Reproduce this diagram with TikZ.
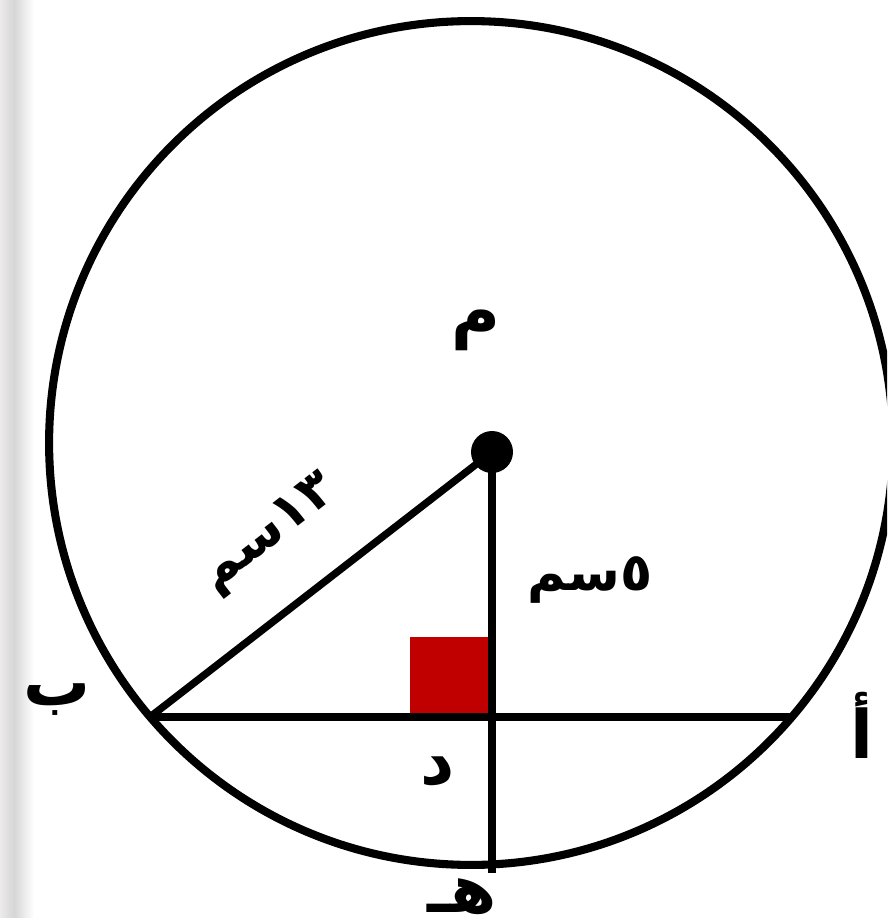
\documentclass[tikz,border=0pt]{standalone}
\usepackage{fontspec}
\newfontfamily\arabicfont[Script=Arabic]{DejaVu Sans}
\TeXXeTstate=1
\definecolor{sqred}{HTML}{C00000}
\begin{document}
\begin{tikzpicture}[x=0.02cm,y=-0.02cm,
  thick line/.style={line width=4.2pt},
  lbl/.style={font=\arabicfont\bfseries\fontsize{30}{36}\selectfont, inner sep=0pt},
  letter/.style={font=\arabicfont\bfseries\fontsize{38}{44}\selectfont, inner sep=0pt}]
\useasboundingbox (0,0) rectangle (887,918);
\clip (0,0) rectangle (887,918);
% grey strip at the left
\shade[left color=red!8!gray!15, right color=gray!32] (0,0) rectangle (14,918);
\shade[left color=gray!32, right color=white] (14,0) rectangle (34,918);
% points
\coordinate (O) at (471,443);
\coordinate (M) at (492,452);
\coordinate (B) at (150,717);
\coordinate (A) at (793,717);
\coordinate (D) at (492,717);
\coordinate (H) at (492,873);
% right angle mark
\fill[sqred] (410,637) rectangle (D);
% circle
\draw[line width=4.6pt] (O) circle[radius=8.44cm];
% segments
\draw[thick line] (B) -- (A);
\draw[thick line] (B) -- (M);
\draw[thick line] (M) -- (H);
\fill (M) circle[radius=0.42cm];
% labels
\node[letter] (lM) at (476,330) {\beginR م\endR};
\node[lbl, rotate=37.7] (l13) at (270,535) {\beginR\beginL ١٣\endL{}سم\endR};
\node[lbl] (l5) at (590,580) {\beginR\beginL ٥\endL{}سم\endR};
\node[letter] (lB) at (57,700) {\beginR ب\endR};
\node[letter] (lA) at (862,725) {\beginR أ\endR};
\node[letter] (lD) at (438,772) {\beginR د\endR};
\node[letter] (lH) at (462,897) {\beginR هـ\endR};
\end{tikzpicture}
\end{document}
